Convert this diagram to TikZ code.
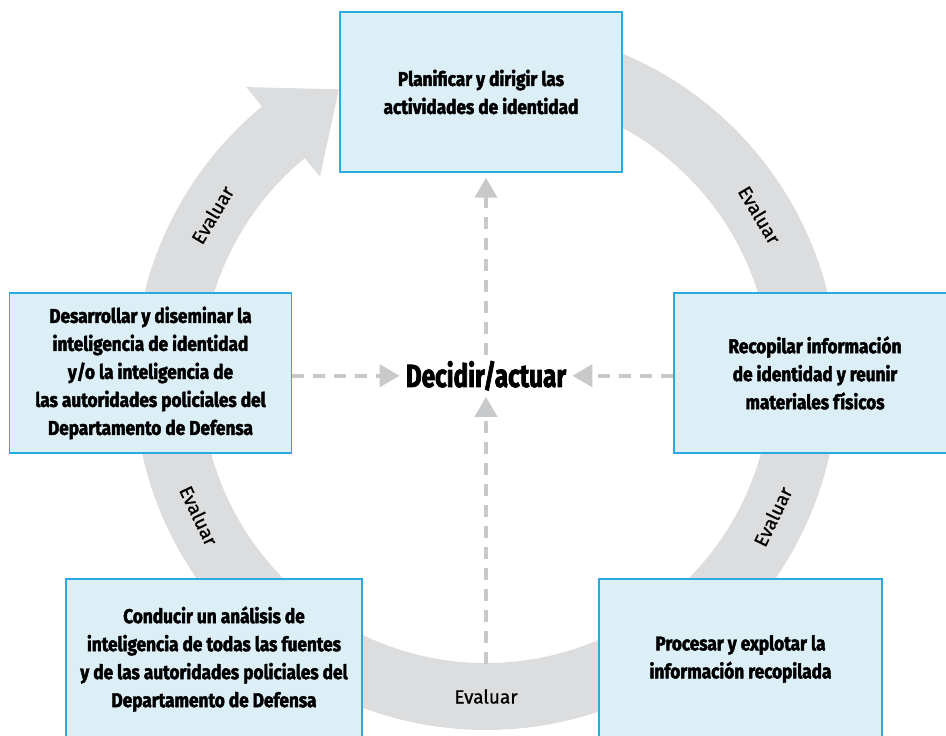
\documentclass[tikz,border=0pt]{standalone}
\usepackage{fontspec}
\setmainfont{Fira Sans}
\newfontfamily\condsf[FakeStretch=0.86, BoldFeatures={FakeBold=2.2}]{Fira Sans}
\newfontfamily\condbig[FakeStretch=0.76, BoldFeatures={FakeBold=2.2}]{Fira Sans}
\newfontfamily\evalsf[FakeBold=0.8]{Fira Sans}
\usetikzlibrary{arrows.meta}

\definecolor{ringgray}{RGB}{220,221,223}
\definecolor{dashgray}{RGB}{200,201,203}
\definecolor{boxfill}{RGB}{220,239,247}
\definecolor{boxline}{RGB}{41,171,226}

\begin{document}
\begin{tikzpicture}
        [x=1pt, y=1pt,
         box/.style={draw=boxline, fill=boxfill, line width=1.5pt, minimum width=282pt, minimum height=160pt, align=center, font=\condsf\bfseries\fontsize{20}{28}\selectfont},
         evallabel/.style={font=\evalsf\fontsize{19}{22}\selectfont, inner sep=0},
         flow/.style={draw=dashgray, line width=4pt, dash pattern=on 12pt off 9pt, -{Triangle[width=22pt,length=20pt]}}]

        \useasboundingbox (-486, 378) rectangle (460, -358);

        % ring with its arrowhead
        \fill[ringgray] (129.5:285) -- (129.5:261) -- (117:324) -- (129.5:377) -- (129.5:352)
          arc[start angle=129.5, end angle=460, radius=352] -- (460:285)
          arc[start angle=460, end angle=129.5, radius=285] -- cycle;

        \node[evallabel, rotate=59.2] (e1) at (149.2:318.5) {Evaluar};
        \node[evallabel, rotate=-59.2] (e2) at (30.8:318.5) {Evaluar};
        \node[evallabel, rotate=64.2] (e3) at (-25.8:318.5) {Evaluar};
        \node[evallabel] (e4) at (270:318.5) {Evaluar};
        \node[evallabel, rotate=-64.4] (e5) at (205.6:318.5) {Evaluar};

        \node[box] (b1) at (-5, 286) {Planificar y dirigir las\\actividades de identidad};
        \node[box] (b2) at (329, 5) {Recopilar información\\de identidad y reunir\\materiales físicos};
        \node[box, minimum width=283pt] (b3) at (254.5, -281) {Procesar y explotar la\\información recopilada};
        \node[box, minimum width=296pt] (b4) at (-272, -281) {Conducir un análisis de\\inteligencia de todas las fuentes\\y de las autoridades policiales del\\Departamento de Defensa};
        \node[box] (b5) at (-335.5, 5) {Desarrollar y diseminar la\\inteligencia de identidad\\y/o la inteligencia de\\las autoridades policiales del\\Departamento de Defensa};

        \node[font=\condbig\bfseries\fontsize{32}{36}\selectfont, inner sep=6pt, anchor=base] (d) at (0, -9) {Decidir/actuar};
        \coordinate (s) at (0, -286);

        \draw[flow] (b5.east |- d) -- (d);
        \draw[flow] (b2.west |- d) -- (d);
        \draw[flow, shorten >=5pt] (d) -- (d |- b1.south);
        \draw[flow] (s) -- (d);

      \end{tikzpicture}
\end{document}
